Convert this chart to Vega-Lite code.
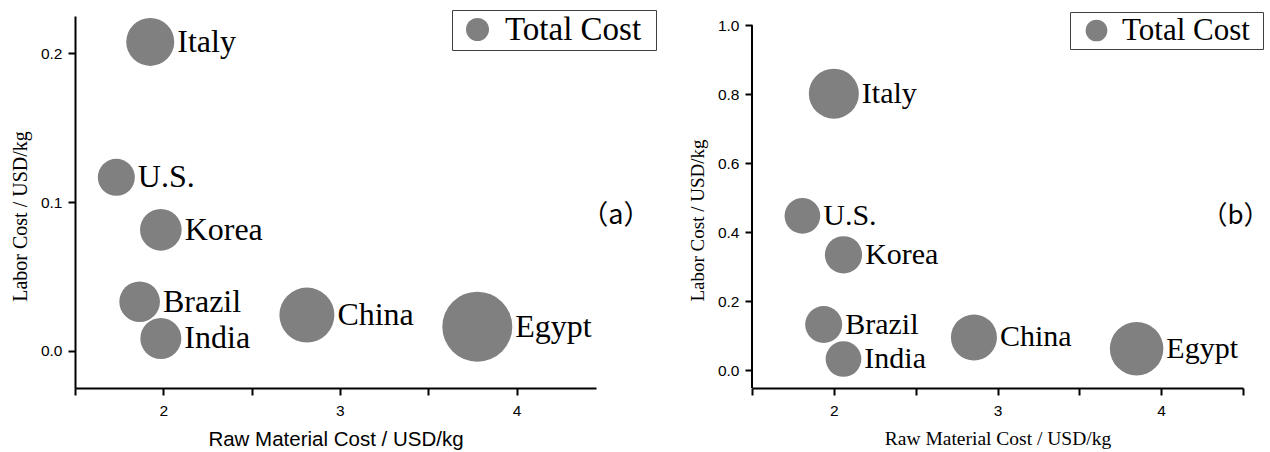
{
  "$schema": "https://vega.github.io/schema/vega-lite/v6.json",
  "padding": {"left": 10, "top": 9, "right": 0, "bottom": 0},
  "background": "white",
  "bounds": "flush",
  "spacing": 156,
  "datasets": {
    "a": [
      {"country": "Italy", "raw": 1.926, "labor": 0.2076, "total": 2.4, "series": "Total Cost"},
      {"country": "U.S.", "raw": 1.734, "labor": 0.1166, "total": 1.85, "series": "Total Cost"},
      {"country": "Korea", "raw": 1.986, "labor": 0.0813, "total": 2.08, "series": "Total Cost"},
      {"country": "Brazil", "raw": 1.866, "labor": 0.033, "total": 2.03, "series": "Total Cost"},
      {"country": "India", "raw": 1.986, "labor": 0.0083, "total": 2.05, "series": "Total Cost"},
      {"country": "China", "raw": 2.813, "labor": 0.024, "total": 2.75, "series": "Total Cost"},
      {"country": "Egypt", "raw": 3.778, "labor": 0.0162, "total": 3.5, "series": "Total Cost"}
    ],
    "b": [
      {"country": "Italy", "raw": 2.0, "labor": 0.802, "total": 2.5, "series": "Total Cost"},
      {"country": "U.S.", "raw": 1.808, "labor": 0.448, "total": 1.785, "series": "Total Cost"},
      {"country": "Korea", "raw": 2.059, "labor": 0.335, "total": 1.865, "series": "Total Cost"},
      {"country": "Brazil", "raw": 1.938, "labor": 0.133, "total": 1.85, "series": "Total Cost"},
      {"country": "India", "raw": 2.059, "labor": 0.033, "total": 1.785, "series": "Total Cost"},
      {"country": "China", "raw": 2.856, "labor": 0.0957, "total": 2.3, "series": "Total Cost"},
      {"country": "Egypt", "raw": 3.85, "labor": 0.063, "total": 2.675, "series": "Total Cost"}
    ]
  },
  "config": {
    "view": {"stroke": null},
    "axis": {
      "grid": false,
      "domainColor": "#000",
      "domainWidth": 2,
      "tickColor": "#000",
      "tickWidth": 2,
      "tickSize": 7,
      "labelFont": "Liberation Sans",
      "labelFontSize": 15.5,
      "labelColor": "#000",
      "titleColor": "#000",
      "titleFontWeight": "normal"
    },
    "axisX": {"labelPadding": 8},
    "axisY": {"labelPadding": 6}
  },
  "resolve": {
    "scale": {"x": "independent", "y": "independent", "color": "independent"},
    "legend": {"color": "independent"}
  },
  "hconcat": [
    {
      "width": 521,
      "height": 372,
      "data": {"name": "a"},
      "layer": [
        {
          "mark": {"type": "circle", "opacity": 1},
          "encoding": {
            "x": {
              "field": "raw", "type": "quantitative",
              "scale": {"domain": [1.5, 4.45], "nice": false, "zero": false},
              "axis": {
                "title": "Raw Material Cost / USD/kg",
                "titleFont": "Liberation Sans", "titleFontSize": 20.5, "titlePadding": 11,
                "values": [1.5, 2, 2.5, 3, 3.5, 4],
                "format": ".0f",
                "labelExpr": "datum.value % 1 === 0 ? datum.label : ''"
              }
            },
            "y": {
              "field": "labor", "type": "quantitative",
              "scale": {"domain": [-0.025, 0.225], "nice": false, "zero": false},
              "axis": {
                "title": "Labor Cost / USD/kg",
                "titleFont": "Liberation Serif", "titleFontSize": 20, "titlePadding": 10,
                "titleY": 200,
                "values": [0, 0.1, 0.2],
                "format": ".1f"
              }
            },
            "size": {
              "field": "total", "type": "quantitative",
              "scale": {"type": "pow", "exponent": 2, "domain": [0, 4], "range": [0, 6400]},
              "legend": null
            },
            "color": {
              "field": "series", "type": "nominal",
              "scale": {"domain": ["Total Cost"], "range": ["#808080"]},
              "legend": {
                "title": ".", "titleOrient": "right", "titleColor": "rgba(0,0,0,0)", "titleFontSize": 4, "titlePadding": 10.5,
                "orient": "none", "legendX": 377, "legendY": -6,
                "symbolType": "circle", "symbolSize": 529, "symbolOpacity": 1, "symbolStrokeWidth": 0,
                "labelFont": "Liberation Serif", "labelFontSize": 33, "labelColor": "#000",
                "labelOffset": 11, "symbolOffset": 6, "padding": 3,
                "strokeColor": "#404040"
              }
            }
          }
        },
        {
          "mark": {"type": "text", "align": "left", "baseline": "middle", "dx": {"expr": "10 * datum.total + 3"}, "font": "Liberation Serif", "fontSize": 32, "color": "#000"},
          "encoding": {
            "x": {"field": "raw", "type": "quantitative", "scale": {"domain": [1.5, 4.45], "nice": false, "zero": false}},
            "y": {"field": "labor", "type": "quantitative", "scale": {"domain": [-0.025, 0.225], "nice": false, "zero": false}},
            "text": {"field": "country"}
          }
        },
        {
          "data": {"values": [{}]},
          "mark": {"type": "text", "align": "center", "baseline": "middle", "font": "Noto Sans CJK SC", "fontSize": 27, "color": "#000"},
          "encoding": {
            "x": {"datum": 4.562, "scale": {"domain": [1.5, 4.45], "nice": false, "zero": false}},
            "y": {"datum": 0.0906, "scale": {"domain": [-0.025, 0.225], "nice": false, "zero": false}},
            "text": {"value": "（a）"}
          }
        }
      ]
    },
    {
      "width": 491,
      "height": 372,
      "data": {"name": "b"},
      "layer": [
        {
          "data": {"values": [{}]},
          "mark": {"type": "rule", "color": "#000", "strokeWidth": 2},
          "encoding": {
            "x": {"datum": 1.5, "scale": {"domain": [1.5, 4.5], "nice": false, "zero": false}},
            "y": {"datum": -0.051, "scale": {"domain": [-0.051, 1.027], "nice": false, "zero": false}},
            "y2": {"datum": 1.0}
          }
        },
        {
          "mark": {"type": "circle", "opacity": 1},
          "encoding": {
            "x": {
              "field": "raw", "type": "quantitative",
              "scale": {"domain": [1.5, 4.5], "nice": false, "zero": false},
              "axis": {
                "title": "Raw Material Cost / USD/kg",
                "titleFont": "Liberation Serif", "titleFontSize": 19.5, "titlePadding": 11,
                "values": [1.5, 2, 2.5, 3, 3.5, 4, 4.5],
                "format": ".0f",
                "labelExpr": "datum.value % 1 === 0 ? datum.label : ''"
              }
            },
            "y": {
              "field": "labor", "type": "quantitative",
              "scale": {"domain": [-0.051, 1.027], "nice": false, "zero": false},
              "axis": {
                "title": "Labor Cost / USD/kg",
                "titleFont": "Liberation Serif", "titleFontSize": 19, "titlePadding": 10,
                "titleY": 204,
                "domain": false,
                "values": [0, 0.2, 0.4, 0.6, 0.8, 1.0],
                "format": ".1f"
              }
            },
            "size": {
              "field": "total", "type": "quantitative",
              "scale": {"type": "pow", "exponent": 2, "domain": [0, 4], "range": [0, 6400]},
              "legend": null
            },
            "color": {
              "field": "series", "type": "nominal",
              "scale": {"domain": ["Total Cost"], "range": ["#808080"]},
              "legend": {
                "title": ".", "titleOrient": "right", "titleColor": "rgba(0,0,0,0)", "titleFontSize": 4, "titlePadding": 8.5,
                "orient": "none", "legendX": 318, "legendY": -4,
                "symbolType": "circle", "symbolSize": 471, "symbolOpacity": 1, "symbolStrokeWidth": 0,
                "labelFont": "Liberation Serif", "labelFontSize": 31, "labelColor": "#000",
                "labelOffset": 10, "symbolOffset": 8, "padding": 3,
                "strokeColor": "#404040"
              }
            }
          }
        },
        {
          "mark": {"type": "text", "align": "left", "baseline": "middle", "dx": {"expr": "10 * datum.total + 3"}, "font": "Liberation Serif", "fontSize": 30, "color": "#000"},
          "encoding": {
            "x": {"field": "raw", "type": "quantitative", "scale": {"domain": [1.5, 4.5], "nice": false, "zero": false}},
            "y": {"field": "labor", "type": "quantitative", "scale": {"domain": [-0.051, 1.027], "nice": false, "zero": false}},
            "text": {"field": "country"}
          }
        },
        {
          "data": {"values": [{}]},
          "mark": {"type": "text", "align": "center", "baseline": "middle", "font": "Noto Sans CJK SC", "fontSize": 26, "color": "#000"},
          "encoding": {
            "x": {"datum": 4.454, "scale": {"domain": [1.5, 4.5], "nice": false, "zero": false}},
            "y": {"datum": 0.446, "scale": {"domain": [-0.051, 1.027], "nice": false, "zero": false}},
            "text": {"value": "（b）"}
          }
        }
      ]
    }
  ]
}
